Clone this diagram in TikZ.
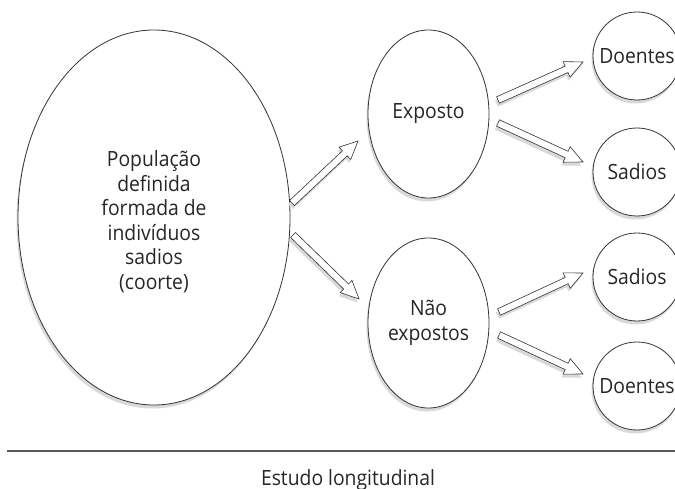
\documentclass[tikz,border=0pt]{standalone}
\usepackage{fontspec}
\setmainfont{Open Sans}[FakeStretch=0.92]
\usetikzlibrary{shapes.geometric,shadows,calc}
\newcommand\fatarrow[2]{%
  \coordinate (#1#2b) at ($(#2)!18pt!(#1)$);
  \filldraw[fat] ($(#1)!3.5pt!90:(#2)$) -- ($(#1#2b)!3.5pt!90:(#2)$) -- ($(#1#2b)!8.5pt!90:(#2)$) -- (#2)
    -- ($(#1#2b)!8.5pt!-90:(#2)$) -- ($(#1#2b)!3.5pt!-90:(#2)$) -- ($(#1)!3.5pt!-90:(#2)$) -- cycle;
}
\begin{document}
\begin{tikzpicture}[x=1pt,y=-1pt,
  shade/.style={drop shadow={shadow xshift=-1.5pt, shadow yshift=-3.5pt, fill=black!15, opacity=1}},
  oval/.style={ellipse, draw=black!80, line width=0.8pt, fill=white, shade, inner sep=0pt},
  ball/.style={circle, draw=black!80, line width=0.8pt, fill=white, shade, minimum size=88pt, inner sep=0pt},
  lbl/.style={align=center, font=\fontsize{21}{24.5}\selectfont, text=black!85, inner sep=0pt},
  fat/.style={draw=black!80, line width=0.6pt, fill=white, shade}]
\useasboundingbox (0,0) rectangle (675,489);
% shapes
\node[oval, minimum width=272pt, minimum height=375pt] (pop) at (154,217.5) {};
\node[oval, minimum width=121pt, minimum height=168pt] (exp) at (428.5,114) {};
\node[oval, minimum width=121pt, minimum height=170pt] (nexp) at (428.5,323) {};
\node[ball] (d1) at (637,56) {};
\node[ball] (s1) at (637,172) {};
\node[ball] (s2) at (637,277) {};
\node[ball] (d2) at (637,386) {};
% texts
\node[lbl] (pop-t) at ($(pop)+(0,4)$) {População\\definida\\formada de\\indivíduos\\sadios\\(coorte)};
\node[lbl] (exp-t) at (exp) {Exposto};
\node[lbl] (nexp-t) at (nexp) {Não\\expostos};
\node[lbl] (d1-t) at (d1) {Doentes};
\node[lbl] (s1-t) at (s1) {Sadios};
\node[lbl] (s2-t) at (s2) {Sadios};
\node[lbl] (d2-t) at (d2) {Doentes};
% arrows
\coordinate (a1t) at (292,203); \coordinate (a1h) at (358,141);
\coordinate (a2t) at (293,235); \coordinate (a2h) at (359,299);
\coordinate (a3t) at (498,100); \coordinate (a3h) at (583,62);
\coordinate (a4t) at (498,123); \coordinate (a4h) at (583,162);
\coordinate (a5t) at (499,312); \coordinate (a5h) at (583,273);
\coordinate (a6t) at (499,335); \coordinate (a6h) at (583,374);
\fatarrow{a1t}{a1h}
\fatarrow{a2t}{a2h}
\fatarrow{a3t}{a3h}
\fatarrow{a4t}{a4h}
\fatarrow{a5t}{a5h}
\fatarrow{a6t}{a6h}
% baseline and caption
\coordinate (rl) at (7,451); \coordinate (rr) at (675,451);
\draw[black!65, line width=1.3pt] (rl) -- (rr);
\node[lbl, anchor=base] (cap) at (348,485) {Estudo longitudinal};
\end{tikzpicture}
\end{document}
